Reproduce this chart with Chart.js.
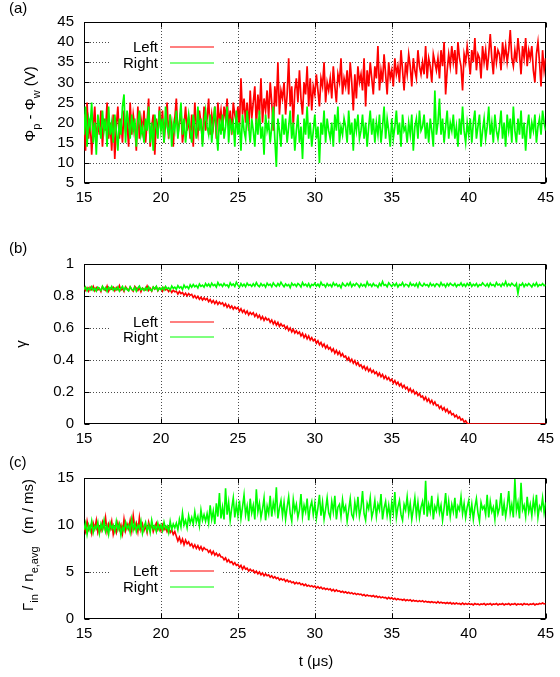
<!DOCTYPE html>
<html><head><meta charset="utf-8">
<script src="https://cdn.jsdelivr.net/npm/chart.js@4/dist/chart.umd.min.js"></script>
<style>
html,body{margin:0;padding:0;background:#fff;}
#wrap{position:relative;width:560px;height:677px;overflow:hidden;background:#fff;}
canvas{position:absolute;left:0;}
</style></head><body>
<div id="wrap">
<canvas id="ca" width="560" height="215" style="top:0px"></canvas>
<canvas id="cb" width="560" height="235" style="top:215px"></canvas>
<canvas id="cc" width="560" height="227" style="top:450px"></canvas>
</div>
<script>
// ---------- data ----------
const seriesNames = ['Left', 'Right'];
const xTicks = [15, 20, 25, 30, 35, 40, 45];
const yTicksA = [5, 10, 15, 20, 25, 30, 35, 40, 45];
const yTicksB = [0, 0.2, 0.4, 0.6, 0.8, 1];
const yTicksC = [0, 5, 10, 15];
const tStart = 15;   // µs, first sample
const tStep = 0.1;   // µs, sample spacing

// (a) Phi_p - Phi_w (V)
const potLeft = [
22,13,25,16,21,12,19,24,15,20,
17,23,14,21,18,25,16,20,13,22,
11,19,24,16,21,15,23,18,20,14,
25,17,22,19,13,24,16,21,18,23,
15,20,26,14,19,22,12,21,17,24,
18,23,15,20,25,16,22,19,14,21,
26,17,20,23,15,19,24,18,21,16,
22,14,25,19,17,23,20,15,24,18,
21,26,17,22,19,24,16,25,20,23,
18,24,21,26,19,23,17,25,22,20,
24,19,31,22,26,20,25,18,28,21,
25,29,19,27,22,31,20,26,23,28,
21,30,25,18,29,24,35,22,28,26,
30,22,27,36,24,29,19,28,31,25,
33,26,22,30,27,34,24,31,23,29,
27,32,28,24,31,29,35,25,30,28,
31,26,34,29,25,32,30,36,27,31,
29,33,27,35,30,23,32,26,34,30,
32,28,36,24,33,29,35,31,27,34,
31,39,28,33,30,37,32,27,35,31,
33,29,36,32,34,30,38,33,28,35,
32,37,34,29,36,33,31,38,34,32,
35,32,39,31,36,34,30,37,35,33,
36,31,38,34,40,27,33,37,34,39,
35,38,32,40,36,34,28,37,35,39,
36,32,38,35,41,33,37,36,31,39,
35,38,33,37,42,36,32,39,35,38,
37,33,40,36,39,35,38,43,36,34,
38,35,41,37,32,39,36,41,34,38,
36,39,33,30,37,40,35,29,38,33,
36];
const potRight = [
17,24,14,21,19,25,15,20,12,22,
19,16,23,18,21,14,24,17,20,15,
22,18,13,21,17,24,27,15,23,20,
16,22,18,21,14,20,23,17,19,15,
21,18,24,15,20,13,22,19,16,23,
18,21,15,24,19,17,22,14,20,18,
23,16,20,25,17,21,15,19,22,18,
15,22,19,16,24,18,21,14,20,23,
19,17,22,15,20,24,18,13,21,17,
22,16,19,24,15,21,18,20,14,23,
17,20,13,22,18,16,23,19,15,21,
18,14,21,17,23,16,19,12,22,18,
20,15,19,24,16,9,21,18,14,22,
17,21,15,19,23,16,20,13,18,22,
15,19,11,21,17,24,16,20,14,18,
22,16,19,10,20,17,23,15,21,18,
16,20,14,22,18,24,15,19,17,21,
19,15,23,17,20,13,21,18,22,16,
18,22,16,20,14,19,23,17,21,15,
20,17,22,15,19,24,16,21,18,14,
21,16,19,23,17,20,14,22,18,19,
15,20,17,22,13,19,21,16,23,18,
19,22,16,20,15,21,18,14,28,17,
20,26,17,21,15,19,23,16,20,18,
22,16,19,14,21,17,24,18,15,20,
17,21,15,20,23,16,19,22,14,18,
21,16,19,24,17,20,15,22,18,16,
19,23,16,20,14,22,18,21,15,24,
18,15,21,17,23,16,20,13,19,22,
16,20,18,22,15,19,21,17,23,20,
18];

// (b) gamma
const gammaLeft = [
.857,.835,.85,.83,.855,.84,.86,.833,.852,.838,
.848,.828,.858,.842,.835,.862,.83,.85,.843,.855,
.832,.853,.84,.865,.836,.847,.828,.858,.845,.834,
.856,.84,.83,.86,.848,.835,.853,.826,.85,.842,
.838,.862,.834,.848,.83,.855,.843,.858,.832,.85,
.846,.83,.852,.838,.845,.828,.84,.822,.836,.826,
.83,.812,.828,.815,.822,.805,.818,.8,.815,.805,
.81,.79,.802,.785,.798,.78,.792,.775,.788,.776,
.785,.765,.778,.758,.772,.752,.768,.748,.762,.75,
.758,.738,.752,.73,.745,.725,.738,.718,.732,.72,
.728,.705,.72,.698,.712,.69,.706,.682,.698,.685,
.695,.672,.688,.665,.68,.655,.672,.648,.665,.65,
.658,.635,.65,.625,.642,.618,.635,.61,.626,.612,
.618,.595,.61,.585,.6,.575,.592,.568,.582,.565,
.575,.55,.566,.54,.558,.532,.55,.525,.54,.52,
.53,.505,.52,.495,.51,.485,.5,.474,.49,.468,
.478,.455,.47,.442,.46,.435,.452,.425,.44,.418,
.425,.4,.415,.39,.405,.38,.396,.37,.385,.362,
.37,.348,.362,.338,.355,.33,.345,.322,.335,.315,
.325,.302,.318,.295,.31,.285,.3,.278,.29,.27,
.28,.255,.272,.248,.262,.238,.252,.228,.242,.22,
.23,.205,.222,.198,.212,.188,.2,.178,.19,.168,
.175,.152,.168,.142,.158,.132,.148,.122,.138,.115,
.12,.098,.112,.088,.102,.078,.092,.068,.08,.058,
.065,.045,.055,.035,.045,.025,.032,.012,.02,.005,
0,0,0,0,0,0,0,0,0,0,
0,0,0,0,0,0,0,0,0,0,
0,0,0,0,0,0,0,0,0,0,
0,0,0,0,0,0,0,0,0,0,
0,0,0,0,0,0,0,0,0,0,
0];
const gammaRight = [
.84,.856,.832,.85,.838,.858,.835,.848,.83,.855,
.845,.833,.86,.84,.852,.828,.855,.842,.86,.836,
.85,.838,.856,.83,.847,.86,.835,.853,.84,.832,
.858,.842,.835,.855,.83,.85,.862,.838,.848,.834,
.852,.836,.858,.84,.832,.856,.844,.86,.835,.85,
.84,.855,.838,.86,.845,.852,.836,.862,.848,.855,
.842,.865,.85,.858,.84,.868,.852,.86,.845,.87,
.855,.872,.858,.866,.85,.875,.86,.868,.855,.878,
.862,.875,.858,.88,.865,.872,.856,.884,.866,.874,
.86,.878,.864,.87,.855,.882,.866,.875,.86,.886,
.868,.855,.878,.862,.874,.858,.88,.866,.872,.86,
.876,.862,.884,.866,.858,.878,.864,.872,.855,.88,
.866,.874,.858,.882,.868,.86,.878,.864,.886,.87,
.858,.876,.864,.872,.852,.88,.866,.874,.86,.878,
.87,.856,.884,.866,.874,.86,.878,.855,.872,.866,
.88,.862,.874,.858,.886,.868,.872,.856,.878,.864,
.872,.858,.882,.866,.876,.86,.87,.852,.88,.868,
.862,.878,.866,.884,.858,.874,.864,.88,.87,.856,
.876,.862,.872,.858,.888,.866,.874,.86,.878,.864,
.868,.854,.878,.864,.89,.866,.872,.858,.882,.87,
.86,.876,.864,.88,.856,.872,.866,.884,.86,.874,
.87,.858,.882,.866,.874,.862,.878,.856,.884,.868,
.862,.878,.866,.872,.858,.88,.864,.874,.86,.876,
.872,.86,.884,.866,.874,.856,.878,.864,.88,.87,
.864,.878,.858,.872,.866,.882,.862,.874,.86,.878,
.866,.88,.86,.874,.864,.878,.858,.872,.866,.882,
.87,.862,.876,.858,.88,.866,.872,.86,.884,.868,
.874,.86,.878,.866,.89,.862,.876,.864,.88,.87,
.862,.878,.815,.872,.866,.88,.858,.874,.864,.878,
.868,.856,.876,.864,.882,.86,.872,.866,.878,.864,
.87];

// (c) Gamma_in / n_e,avg (m/ms)
const fluxLeft = [
9.9,9.3,10.4,9.5,9.9,9.1,10.2,9.6,10.5,9.2,
9.8,9.4,10.3,9.7,10.8,9.3,10.1,9.6,10.4,9.0,
9.7,9.2,10.2,9.5,10.0,9.1,10.6,9.4,10.1,9.6,
10.5,9.4,11.0,9.7,10.2,9.3,10.8,9.5,10.1,9.4,
9.9,9.2,10.3,9.6,10.1,9.3,9.8,10.2,9.5,9.9,
9.4,10.0,9.5,9.8,9.3,9.7,9.2,9.5,9.0,9.3,
8.8,8.3,8.7,8.1,8.5,7.9,8.4,8.0,8.2,7.8,
8.0,7.6,7.9,7.5,7.8,7.4,7.7,7.3,7.6,7.4,
7.4,7.1,7.3,6.9,7.2,6.8,7.0,6.7,6.9,6.6,
6.6,6.3,6.5,6.1,6.3,6.0,6.1,5.8,6.0,5.7,
5.8,5.5,5.7,5.3,5.6,5.3,5.4,5.1,5.3,5.1,
5.2,4.9,5.1,4.8,5.0,4.7,4.9,4.6,4.8,4.6,
4.7,4.45,4.6,4.35,4.5,4.3,4.4,4.15,4.3,4.15,
4.25,4.0,4.15,3.95,4.05,3.85,3.95,3.75,3.9,3.75,
3.85,3.65,3.75,3.55,3.7,3.5,3.6,3.45,3.55,3.4,
3.5,3.3,3.45,3.25,3.4,3.2,3.3,3.15,3.25,3.1,
3.2,3.0,3.15,2.95,3.1,2.95,3.0,2.85,2.95,2.8,
2.9,2.75,2.85,2.7,2.8,2.65,2.75,2.6,2.7,2.6,
2.65,2.5,2.6,2.45,2.55,2.45,2.5,2.4,2.5,2.35,
2.45,2.3,2.4,2.25,2.35,2.25,2.3,2.15,2.3,2.15,
2.25,2.1,2.2,2.05,2.15,2.05,2.1,2.0,2.1,1.95,
2.05,1.95,2.05,1.9,2.0,1.9,1.95,1.85,1.95,1.85,
1.95,1.8,1.9,1.8,1.85,1.75,1.85,1.75,1.8,1.7,
1.85,1.7,1.8,1.7,1.75,1.65,1.75,1.65,1.75,1.6,
1.7,1.6,1.7,1.6,1.65,1.55,1.7,1.55,1.65,1.55,
1.65,1.55,1.6,1.5,1.65,1.55,1.6,1.5,1.6,1.55,
1.65,1.5,1.6,1.55,1.65,1.5,1.6,1.55,1.65,1.5,
1.6,1.55,1.65,1.5,1.6,1.55,1.65,1.5,1.6,1.55,
1.65,1.5,1.6,1.55,1.6,1.5,1.65,1.55,1.6,1.5,
1.6,1.55,1.65,1.5,1.6,1.55,1.65,1.6,1.7,1.6,
1.65];
const fluxRight = [
9.5,10.2,9.0,10.0,9.4,10.4,9.2,9.9,9.6,10.3,
9.1,10.1,9.5,10.5,9.3,9.9,9.0,10.2,9.6,10.0,
9.3,10.4,9.5,10.1,8.9,9.8,9.4,10.3,9.6,10.0,
9.2,10.6,9.5,10.2,9.3,10.0,9.6,10.4,9.1,9.8,
10.3,9.4,10.0,9.2,10.5,9.6,9.9,9.3,10.2,9.5,
10.0,9.4,10.3,9.6,9.9,9.2,10.4,9.5,10.1,9.7,
10.2,9.5,10.6,9.8,11.3,10.0,10.5,9.7,11.0,10.2,
10.8,10.1,11.4,10.3,10.9,9.9,11.6,10.5,11.1,10.4,
11.2,10.2,12.1,10.6,11.5,10.1,12.3,10.9,13.4,10.7,
11.9,10.6,13.9,11.1,12.4,10.5,11.8,12.9,10.8,12.2,
11.0,12.6,10.7,11.9,13.2,11.1,12.0,10.4,12.8,11.3,
12.1,10.6,13.8,11.4,12.3,10.8,11.7,12.9,10.5,12.0,
11.2,13.1,10.9,12.4,11.5,14.0,10.7,11.8,12.6,11.0,
12.4,10.6,11.9,13.0,11.2,10.4,12.7,11.5,12.2,10.8,
11.6,13.3,10.9,12.1,11.4,12.8,10.5,11.9,12.5,11.1,
12.3,10.7,11.8,13.2,11.0,12.4,10.6,11.7,12.9,11.3,
10.8,12.5,11.4,13.1,10.6,11.9,12.2,10.9,12.7,11.5,
12.0,10.4,11.6,12.8,11.1,10.7,12.4,11.3,13.0,10.9,
11.8,13.6,11.2,10.5,12.3,11.7,12.9,10.8,11.5,12.6,
10.9,12.2,11.6,13.3,10.6,11.8,12.5,11.0,12.1,10.7,
12.4,11.3,13.5,10.8,11.9,12.6,11.1,10.5,12.2,11.6,
13.0,11.2,12.3,10.6,11.7,12.9,11.0,12.4,10.8,11.9,
12.5,11.1,14.7,10.9,12.2,11.4,13.1,10.6,12.0,11.5,
12.8,11.3,12.1,10.5,11.8,13.4,11.0,12.5,10.9,12.2,
11.4,12.9,10.7,12.0,11.6,13.0,11.2,12.3,10.8,11.9,
12.6,11.0,12.2,10.6,11.9,12.8,11.3,10.4,12.4,11.7,
12.0,11.1,13.2,10.8,12.5,11.4,11.9,10.6,12.7,11.2,
11.8,13.4,11.0,12.3,10.9,12.0,13.6,11.3,12.2,10.8,
14.9,11.5,12.4,10.7,14.5,11.6,12.1,10.9,13.0,11.4,
12.2,11.0,12.7,11.5,13.2,10.8,12.0,11.6,12.9,11.3,
12.4];

// ---------- rendering ----------
const FONT = '"Liberation Sans", Arial, Helvetica, sans-serif';
const FS = 15;
const LEFT_COLOR = '#ff0000';
const RIGHT_COLOR = '#00ff00';

function toPoints(vals) {
  return vals.map((v, i) => ({ x: Math.round((tStart + i * tStep) * 100) / 100, y: v }));
}

function drawRich(ctx, segs, cx, cy, rotate, size) {
  ctx.save();
  ctx.translate(cx, cy);
  if (rotate) ctx.rotate(-Math.PI / 2);
  ctx.textBaseline = 'alphabetic';
  ctx.textAlign = 'left';
  ctx.fillStyle = '#000';
  let total = 0;
  const parts = segs.map(s => {
    const fs = s.sub ? Math.round(size * 0.72) : size;
    ctx.font = fs + 'px ' + FONT;
    const w = ctx.measureText(s.t).width;
    total += w;
    return { s, fs, w };
  });
  let xx = -total / 2;
  const base = size * 0.36;
  parts.forEach(p => {
    ctx.font = p.fs + 'px ' + FONT;
    ctx.fillText(p.s.t, xx, base + (p.s.sub ? size * 0.32 : 0));
    xx += p.w;
  });
  ctx.restore();
}

const gpPlugin = {
  id: 'gp',
  beforeDatasetsDraw(chart, args, o) {
    const { ctx, chartArea: a, scales: { x, y } } = chart;
    const kb = o.keyBox; // [x0, y0, x1, y1]
    ctx.save();
    ctx.strokeStyle = 'rgba(0,0,0,0.7)';
    ctx.lineWidth = 1;
    ctx.setLineDash([1, 2]);
    x.ticks.forEach(t => {
      if (t.value <= x.min || t.value >= x.max) return;
      const px = Math.round(x.getPixelForValue(t.value)) + 0.5;
      ctx.beginPath(); ctx.moveTo(px, a.top); ctx.lineTo(px, a.bottom); ctx.stroke();
    });
    y.ticks.forEach(t => {
      if (t.value <= y.min || t.value >= y.max) return;
      const py = Math.round(y.getPixelForValue(t.value)) + 0.5;
      ctx.beginPath();
      if (py > kb[1] && py < kb[3]) {
        ctx.moveTo(a.left, py); ctx.lineTo(kb[0], py);
        ctx.moveTo(kb[2], py); ctx.lineTo(a.right, py);
      } else {
        ctx.moveTo(a.left, py); ctx.lineTo(a.right, py);
      }
      ctx.stroke();
    });
    ctx.setLineDash([]);
    ctx.strokeStyle = '#000';
    ctx.lineWidth = 1;
    const L = Math.round(a.left) + 0.5, R = Math.round(a.right) - 0.5;
    const T = Math.round(a.top) + 0.5, B = Math.round(a.bottom) - 0.5;
    ctx.strokeRect(L, T, R - L, B - T);
    const tl = 5;
    ctx.beginPath();
    x.ticks.forEach(t => {
      const px = Math.round(x.getPixelForValue(t.value)) + 0.5;
      ctx.moveTo(px, B); ctx.lineTo(px, B - tl);
      ctx.moveTo(px, T); ctx.lineTo(px, T + tl);
    });
    y.ticks.forEach(t => {
      const py = Math.round(y.getPixelForValue(t.value)) + 0.5;
      ctx.moveTo(L, py); ctx.lineTo(L + tl, py);
      ctx.moveTo(R, py); ctx.lineTo(R - tl, py);
    });
    ctx.stroke();
    ctx.font = FS + 'px ' + FONT;
    ctx.textAlign = 'right';
    ctx.textBaseline = 'middle';
    ctx.fillStyle = '#000';
    const cols = [LEFT_COLOR, RIGHT_COLOR];
    seriesNames.forEach((n, i) => {
      const ry = o.keyRows[i];
      ctx.fillText(n, 158, ry + 1);
      ctx.strokeStyle = cols[i];
      ctx.lineWidth = 1.2;
      ctx.beginPath(); ctx.moveTo(170, ry); ctx.lineTo(214, ry); ctx.stroke();
    });
    ctx.restore();
  },
  afterDraw(chart, args, o) {
    const { ctx } = chart;
    ctx.save();
    ctx.font = FS + 'px ' + FONT;
    ctx.fillStyle = '#000';
    ctx.textAlign = 'left';
    ctx.textBaseline = 'middle';
    ctx.fillText(o.panel, 9, o.panelY);
    drawRich(ctx, o.ytitle, o.ytitleX, o.ytitleY, true, FS);
    if (o.xtitle) drawRich(ctx, o.xtitle, 316, o.xtitleY, false, FS);
    ctx.restore();
  }
};

function makeChart(id, padTop, xH, yTicks, left, right, lw, gp) {
  const tickFont = { family: FONT, size: FS };
  return new Chart(document.getElementById(id), {
    type: 'line',
    data: {
      datasets: [
        { label: seriesNames[0], data: toPoints(left), borderColor: LEFT_COLOR, borderWidth: lw, pointRadius: 0, tension: 0, order: 1 },
        { label: seriesNames[1], data: toPoints(right), borderColor: RIGHT_COLOR, borderWidth: lw, pointRadius: 0, tension: 0, order: 0 }
      ]
    },
    options: {
      responsive: false,
      animation: false,
      events: [],
      layout: { padding: { top: padTop, right: 11, left: 0, bottom: 0 } },
      plugins: { legend: { display: false }, tooltip: { enabled: false }, gp },
      scales: {
        x: {
          type: 'linear', min: xTicks[0], max: xTicks[xTicks.length - 1],
          afterBuildTicks(s) { s.ticks = xTicks.map(v => ({ value: v })); },
          ticks: { font: tickFont, color: '#000', padding: 6, maxRotation: 0, autoSkip: false },
          grid: { display: false, drawTicks: false },
          border: { display: false },
          afterFit(s) { s.height = xH; }
        },
        y: {
          type: 'linear', min: yTicks[0], max: yTicks[yTicks.length - 1],
          afterBuildTicks(s) { s.ticks = yTicks.map(v => ({ value: v })); },
          ticks: { font: tickFont, color: '#000', padding: 10, autoSkip: false, callback: v => String(v) },
          grid: { display: false, drawTicks: false },
          border: { display: false },
          afterFit(s) { s.width = 84; }
        }
      }
    },
    plugins: [gpPlugin]
  });
}

makeChart('ca', 22, 32, yTicksA, potLeft, potRight, 1.7, {
  panel: '(a)', panelY: 9, keyBox: [109, 36, 223, 72], keyRows: [47, 63],
  ytitle: [{ t: 'Φ' }, { t: 'p', sub: true }, { t: ' - Φ' }, { t: 'w', sub: true }, { t: ' (V)' }],
  ytitleX: 30, ytitleY: 104
});
makeChart('cb', 49, 26, yTicksB, gammaLeft, gammaRight, 1.6, {
  panel: '(b)', panelY: 34, keyBox: [109, 97, 223, 131], keyRows: [107, 122],
  ytitle: [{ t: 'γ' }], ytitleX: 21, ytitleY: 129
});
makeChart('cc', 28, 58, yTicksC, fluxLeft, fluxRight, 1.6, {
  panel: '(c)', panelY: 13, keyBox: [109, 110, 223, 146], keyRows: [121, 137],
  ytitle: [{ t: 'Γ' }, { t: 'in', sub: true }, { t: ' / n' }, { t: 'e,avg', sub: true }, { t: '   (m / ms)' }],
  ytitleX: 28, ytitleY: 95,
  xtitle: [{ t: 't (μs)' }], xtitleY: 211
});
</script>
</body></html>
